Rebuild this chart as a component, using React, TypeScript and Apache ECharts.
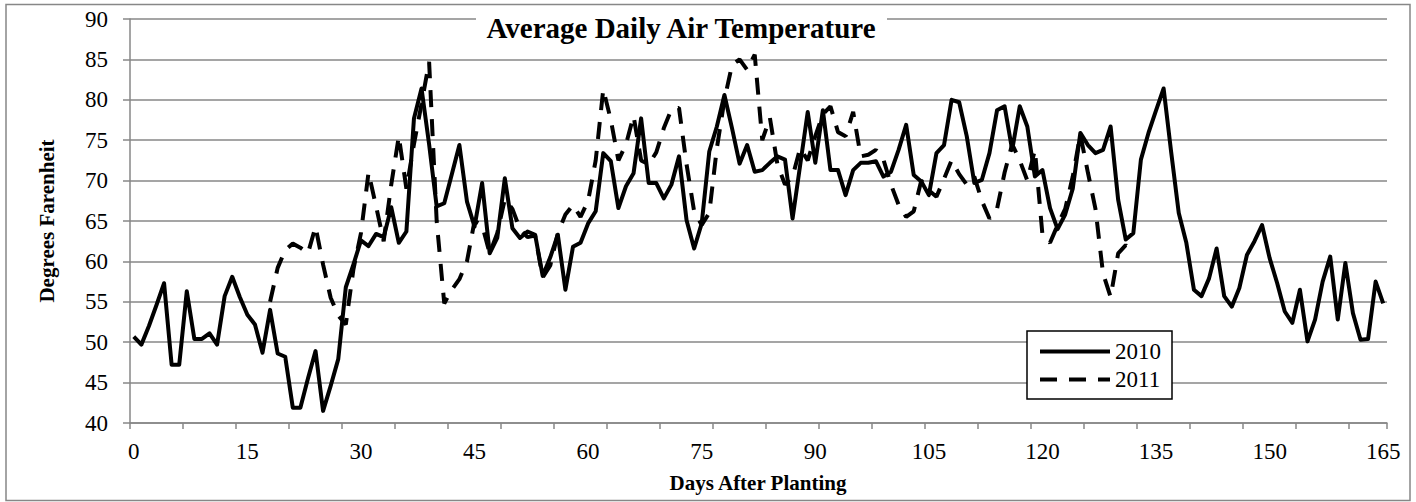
import React, { useEffect, useRef } from "react";
import * as echarts from "echarts";

// Days after planting (category axis 0..165)
const DAYS: string[] = Array.from({ length: 166 }, (_, i) => String(i));

// Average daily air temperature, 2010 (days 0..165)
const TEMP_2010: number[] = [
  50.7, 49.7, 52.0, 54.6, 57.3, 47.2, 47.2, 56.3, 50.4, 50.4,
  51.1, 49.7, 55.7, 58.1, 55.6, 53.4, 52.2, 48.7, 54.0, 48.6,
  48.2, 41.9, 41.9, 45.5, 48.9, 41.5, 44.6, 47.9, 56.8, 59.6,
  62.6, 61.9, 63.4, 63.0, 66.7, 62.3, 63.7, 77.7, 81.4, 74.5,
  66.8, 67.2, 70.8, 74.4, 67.4, 64.3, 69.7, 61.0, 62.9, 70.3,
  64.1, 62.9, 63.7, 63.3, 58.2, 60.5, 63.3, 56.5, 61.8, 62.3,
  64.7, 66.2, 73.4, 72.4, 66.6, 69.3, 70.9, 77.7, 69.7, 69.7,
  67.8, 69.5, 73.0, 65.1, 61.6, 64.7, 73.6, 76.7, 80.6, 76.5,
  72.1, 74.4, 71.1, 71.3, 72.2, 73.0, 72.6, 65.3, 71.9, 78.5,
  72.2, 78.7, 71.3, 71.3, 68.2, 71.3, 72.2, 72.2, 72.4, 70.5,
  71.1, 73.8, 76.9, 70.7, 69.9, 68.2, 73.4, 74.4, 80.0, 79.7,
  75.5, 69.7, 70.1, 73.4, 78.7, 79.2, 73.8, 79.2, 76.7, 70.5,
  71.3, 66.6, 64.0, 65.8, 69.0, 75.9, 74.4, 73.4, 73.8, 76.7,
  67.6, 62.7, 63.5, 72.6, 75.9, 78.7, 81.4, 73.5, 66.0, 62.3,
  56.5, 55.7, 57.9, 61.6, 55.7, 54.4, 56.7, 60.8, 62.5, 64.5,
  60.4, 57.3, 53.8, 52.4, 56.5, 50.1, 52.8, 57.5, 60.6, 52.8,
  59.8, 53.6, 50.3, 50.4, 57.5, 54.8,
];

// Average daily air temperature, 2011 (starts at day 18, ends at day 132)
const START_DAY_2011 = 18;
const TEMP_2011: number[] = [
  55.0, 59.2, 61.4, 62.2, 61.7, 61.0, 64.3, 59.6, 55.5, 53.3,
  52.2, 59.0, 63.5, 71.0, 66.8, 62.5, 69.5, 75.5, 69.0, 74.5,
  79.5, 84.7, 65.0, 54.8, 56.5, 57.8, 60.0, 65.0, 64.5, 61.0,
  63.5, 67.7, 66.5, 64.0, 63.0, 63.2, 58.0, 59.5, 63.5, 65.8,
  67.0, 65.5, 67.5, 72.5, 81.3, 77.5, 72.5, 74.5, 78.0, 72.5,
  72.0, 73.5, 76.5, 78.8, 79.0, 72.0, 66.2, 64.5, 66.0, 74.0,
  80.0, 84.3, 85.0, 83.7, 85.6, 75.0, 77.8, 72.0, 69.5, 70.5,
  74.0, 72.5, 75.5, 78.2, 79.2, 76.0, 75.5, 78.5, 73.0, 73.2,
  73.8, 72.6, 69.5, 67.0, 65.5, 66.2, 70.0, 68.8, 68.0, 70.2,
  72.5, 70.8, 69.5, 70.5, 67.5, 65.3, 66.5, 71.0, 74.5, 72.5,
  70.0, 73.8, 63.3, 62.3, 64.5, 66.5, 70.5, 75.7, 71.0, 66.5,
  58.5, 55.6, 61.0, 62.0, 61.2,
];

const SERIES_NAMES = ["2010", "2011"];
const TITLE = "Average Daily Air Temperature";
const X_NAME = "Days After Planting";
const Y_NAME = "Degrees Farenheit";
const Y_MIN = 40;
const Y_MAX = 90;
const Y_STEP = 5;
const TICK_EVERY = 7;
const LABEL_EVERY = 15;

const FONT = "'Liberation Serif', 'Times New Roman', serif";
const GRAY = "#878787";
const LINE_W = 4;

export default function App() {
  const ref = useRef<HTMLDivElement>(null);

  useEffect(() => {
    if (!ref.current) return;
    const chart = echarts.init(ref.current, null, { renderer: "svg" });
    const data2011 = DAYS.map((_, i) => {
      const k = i - START_DAY_2011;
      return k >= 0 && k < TEMP_2011.length ? TEMP_2011[k] : null;
    });

    chart.setOption({
      animation: false,
      backgroundColor: "#fff",
      grid: { left: 130, right: 29, top: 19, bottom: 79, containLabel: false },
      xAxis: {
        type: "category",
        data: DAYS,
        boundaryGap: true,
        axisLine: { show: true, lineStyle: { color: GRAY, width: 1.5 } },
        axisTick: {
          show: true,
          interval: TICK_EVERY - 1,
          length: 6,
          lineStyle: { color: GRAY, width: 1.5 },
        },
        axisLabel: {
          interval: LABEL_EVERY - 1,
          margin: 17,
          color: "#000",
          fontFamily: FONT,
          fontSize: 23,
        },
        splitLine: { show: false },
      },
      yAxis: {
        type: "value",
        min: Y_MIN,
        max: Y_MAX,
        interval: Y_STEP,
        axisLine: { show: true, lineStyle: { color: GRAY, width: 1.5 } },
        axisTick: { show: true, length: 7, lineStyle: { color: GRAY, width: 1.5 } },
        axisLabel: { margin: 22, color: "#000", fontFamily: FONT, fontSize: 23 },
        splitLine: { show: true, lineStyle: { color: GRAY, width: 1.5 } },
      },
      legend: {
        data: SERIES_NAMES,
        left: 1027,
        top: 331,
        orient: "vertical",
        padding: [9, 11, 8, 11],
        itemGap: 5,
        itemWidth: 70,
        itemHeight: 14,
        backgroundColor: "#fff",
        borderColor: "#000",
        borderWidth: 1.5,
        itemStyle: { opacity: 0, borderWidth: 0 },
        lineStyle: { width: LINE_W },
        textStyle: { fontFamily: FONT, fontSize: 23, color: "#000" },
      },
      series: [
        {
          name: SERIES_NAMES[0],
          type: "line",
          data: TEMP_2010,
          symbol: "none",
          itemStyle: { color: "#000" },
          lineStyle: { color: "#000", width: LINE_W, join: "round" },
        },
        {
          name: SERIES_NAMES[1],
          type: "line",
          data: data2011,
          symbol: "none",
          connectNulls: false,
          itemStyle: { color: "#000" },
          lineStyle: { color: "#000", width: LINE_W, type: [17, 12] },
        },
      ],
      graphic: [
        {
          type: "rect",
          silent: true,
          z: 0,
          shape: { x: 6, y: 4.5, width: 1404, height: 496 },
          style: { fill: "none", stroke: GRAY, lineWidth: 1.5 },
        },
        {
          type: "rect",
          silent: true,
          z: 1,
          shape: { x: 476, y: 8, width: 411, height: 40 },
          style: { fill: "#fff" },
        },
        {
          type: "text",
          z: 1,
          x: 681,
          y: 28,
          style: {
            text: TITLE,
            fontFamily: FONT,
            fontWeight: "bold",
            fontSize: 29,
            fill: "#000",
            align: "center",
            verticalAlign: "middle",
          },
        },
        {
          type: "text",
          z: 1,
          x: 758,
          y: 483,
          style: {
            text: X_NAME,
            fontFamily: FONT,
            fontWeight: "bold",
            fontSize: 21,
            fill: "#000",
            align: "center",
            verticalAlign: "middle",
          },
        },
        {
          type: "text",
          z: 1,
          x: 47,
          y: 221,
          rotation: Math.PI / 2,
          style: {
            text: Y_NAME,
            fontFamily: FONT,
            fontWeight: "bold",
            fontSize: 21,
            fill: "#000",
            align: "center",
            verticalAlign: "middle",
          },
        },
      ],
    });

    return () => chart.dispose();
  }, []);

  return (
    <div
      ref={ref}
      style={{ position: "fixed", left: 0, top: 0, width: 1416, height: 502, background: "#fff" }}
    />
  );
}
